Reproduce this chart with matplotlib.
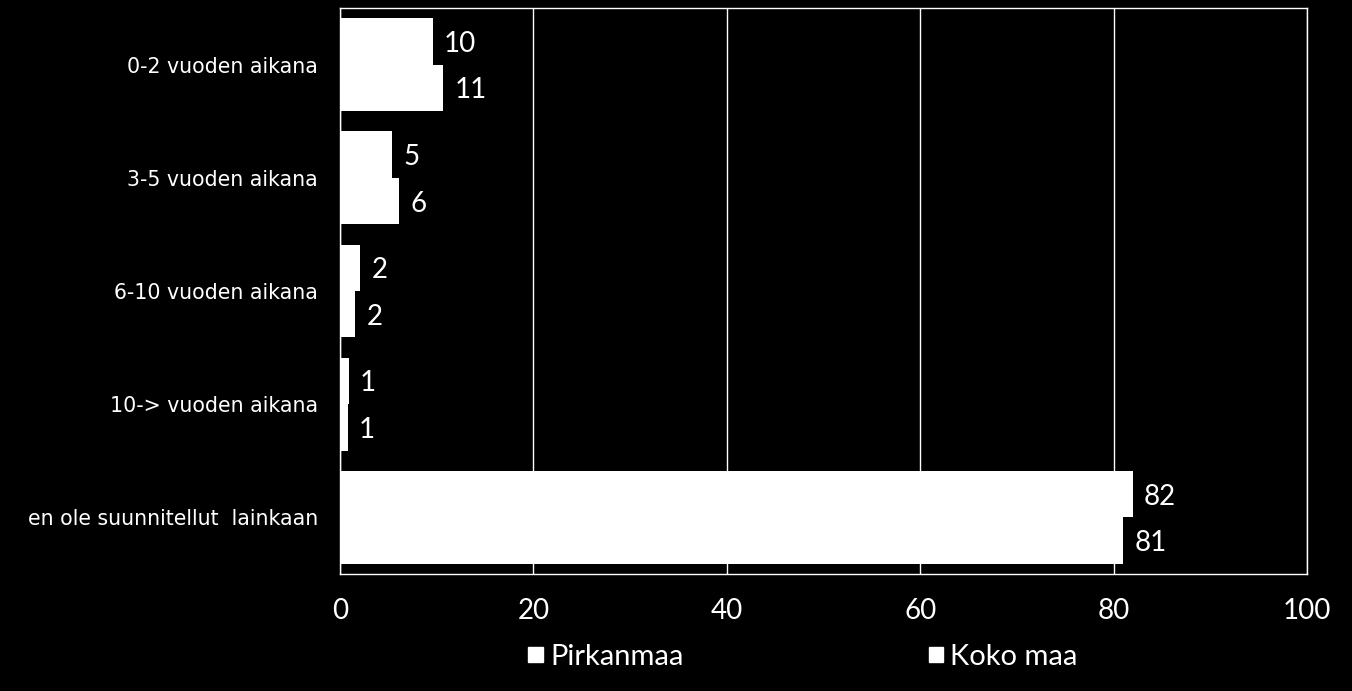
import matplotlib
matplotlib.use("Agg")
import matplotlib.pyplot as plt
import numpy as np
from matplotlib.patches import Patch

categories = ["0-2 vuoden aikana", "3-5 vuoden aikana", "6-10 vuoden aikana",
              "10-> vuoden aikana", "en ole suunnitellut  lainkaan"]
pirkanmaa = [9.6, 5.4, 2.1, 0.9, 82.0]
koko_maa = [10.7, 6.1, 1.6, 0.8, 81.0]
series_names = ["Pirkanmaa", "Koko maa"]
x_ticks = [0, 20, 40, 60, 80, 100]

num_font = "Lato"
cat_font = "DejaVu Sans"

fig = plt.figure(figsize=(13.52, 6.91), dpi=100, facecolor="black")
ax = fig.add_axes([340 / 1352, 1 - 574 / 691, 967 / 1352, 566 / 691], facecolor="black")

y = np.arange(len(categories))
h = 0.41
b1 = ax.barh(y - h / 2, pirkanmaa, height=h, color="white", zorder=3)
b2 = ax.barh(y + h / 2, koko_maa, height=h, color="white", zorder=3)

for bars in (b1, b2):
    lbls = ax.bar_label(bars, fmt="%.0f", padding=8, color="white",
                        fontsize=20, family=num_font)
    for t in lbls:
        t.set_va("center_baseline")

ax.set_xlim(0, 100)
ax.set_ylim(len(categories) - 0.5, -0.5)
ax.set_xticks(x_ticks)
ax.set_xticklabels([str(t) for t in x_ticks], family=num_font, fontsize=20, color="white")
ax.set_yticks(y)
ax.set_yticklabels(categories, family=cat_font, fontsize=14.8, color="white")
ax.tick_params(axis="x", length=0, pad=17)
ax.tick_params(axis="y", length=0, pad=16)
ax.grid(axis="x", color="white", linewidth=1, zorder=1)
for s in ax.spines.values():
    s.set_color("white")
    s.set_linewidth(1)

handles = [Patch(facecolor="white", edgecolor="white") for _ in series_names]
leg = fig.legend(handles, series_names, loc="center", ncol=2,
                 bbox_to_anchor=(803 / 1352, 1 - 657 / 691), frameon=False,
                 prop={"family": num_font, "size": 21},
                 handlelength=0.5, handleheight=0.45, handletextpad=0.25,
                 columnspacing=8.4)
for t in leg.get_texts():
    t.set_color("white")

fig.savefig("out.png", dpi=100, facecolor="black")
